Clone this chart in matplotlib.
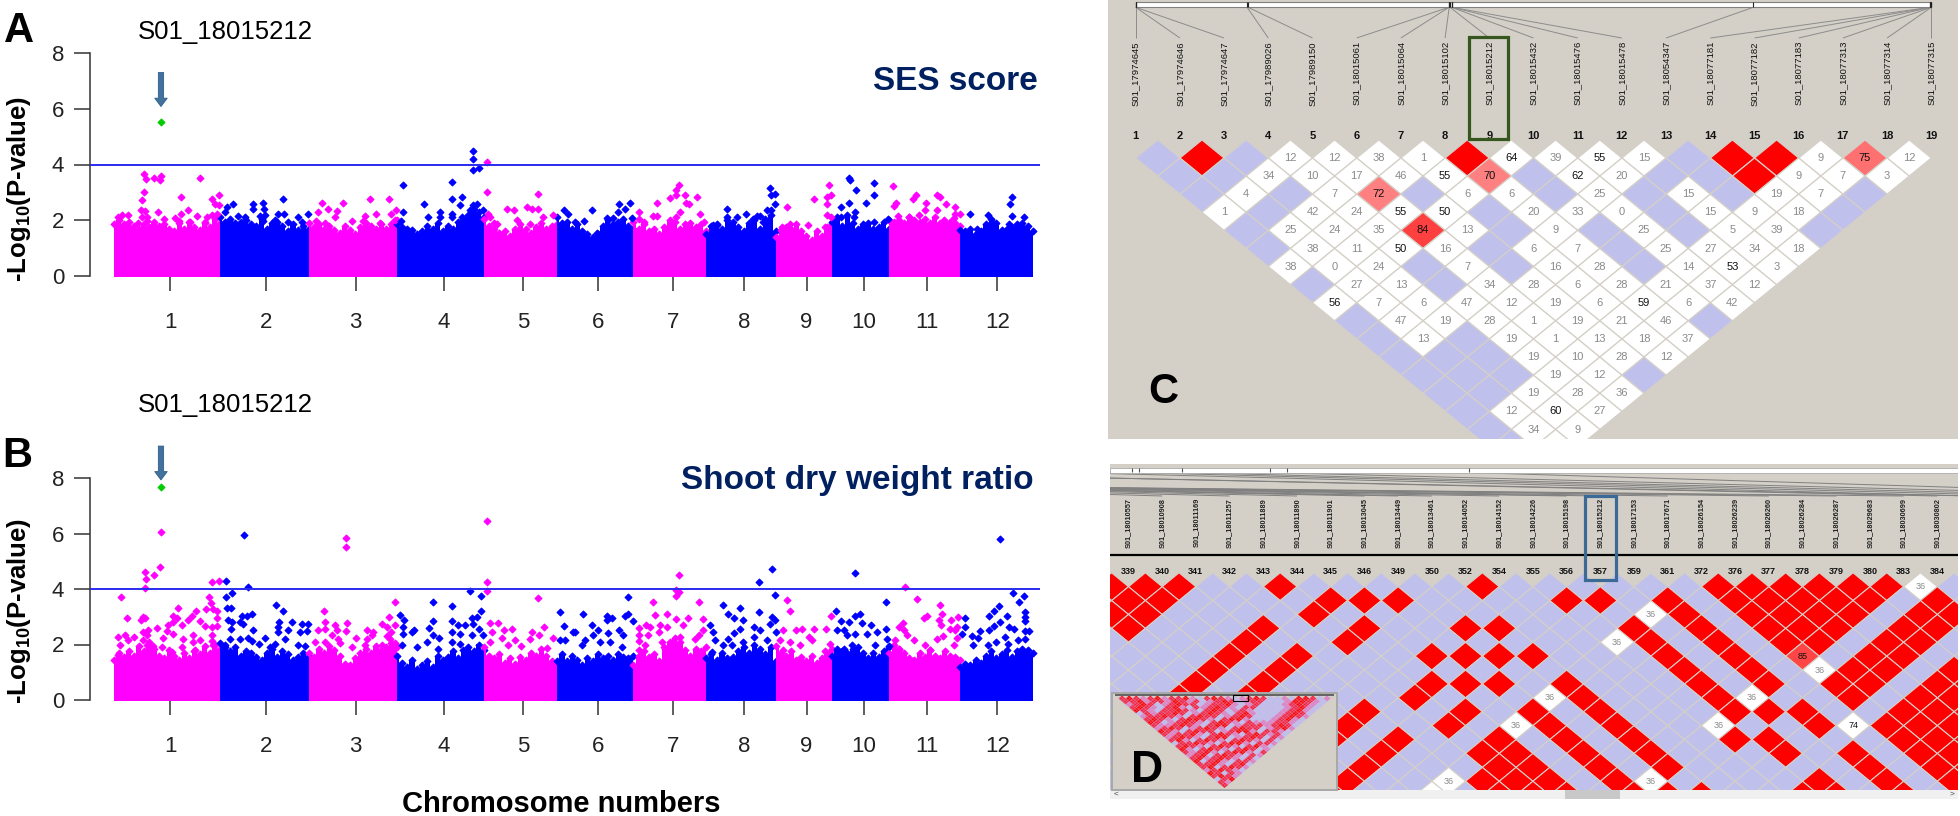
import numpy as np
import matplotlib
matplotlib.use("Agg")
import matplotlib.pyplot as plt
from matplotlib.collections import PolyCollection, LineCollection
from matplotlib.markers import MarkerStyle
from matplotlib.patches import Rectangle, Polygon

plt.rcParams['font.family'] = ['Liberation Sans', 'DejaVu Sans']
plt.rcParams['mathtext.fontset'] = 'custom'
plt.rcParams['mathtext.rm'] = 'Liberation Sans:bold'
plt.rcParams['mathtext.bf'] = 'Liberation Sans:bold'

W, H = 1960, 816

# chromosome starts in Mb, last one is the genome end
chr_starts = [0, 43, 79, 114.7, 150, 179.6, 210.6, 240, 268.4, 291, 314.2, 343, 372.4]
chr_ticks = [23, 61.9, 98.1, 133.7, 166, 196.4, 226.8, 255.6, 280.8, 304, 329.6, 358.1]
chr_names = ['1', '2', '3', '4', '5', '6', '7', '8', '9', '10', '11', '12']
lead_pos = 19.2
lead_a = 5.53
lead_b = 7.66
threshold = 4

# skyline of the solid body per chromosome
a_tops = [
    [1.85, 2.0, 1.85, 1.95, 1.8, 1.7, 1.85, 1.75, 1.95, 1.8, 1.85, 1.7, 1.6, 1.9, 1.7, 1.95, 1.75, 1.65, 1.9, 1.75, 2.05, 1.9],
    [2.1, 1.95, 2.05, 1.9, 1.95, 2.0, 1.85, 1.8, 2.05, 1.7, 1.9, 1.95, 1.8, 1.6, 1.85, 1.65, 1.8, 1.7],
    [1.9, 1.75, 1.85, 1.7, 1.8, 1.65, 1.55, 1.8, 1.65, 1.5, 1.75, 1.9, 1.8, 1.7, 1.85, 1.7, 1.85, 2.0],
    [1.85, 1.75, 1.7, 1.65, 1.5, 1.6, 1.8, 1.7, 1.9, 1.6, 1.8, 1.7, 1.95, 2.05, 2.2, 2.4, 2.3, 2.1],
    [2.05, 1.8, 1.7, 1.55, 1.6, 1.45, 1.7, 1.85, 1.7, 1.55, 1.75, 1.9, 1.7, 1.8, 1.85],
    [2.1, 1.9, 1.95, 1.7, 1.85, 1.6, 1.5, 1.4, 1.5, 1.8, 2.0, 1.85, 1.95, 2.05, 1.8, 1.7],
    [1.95, 1.7, 1.85, 1.6, 1.7, 1.5, 1.75, 2.0, 1.95, 1.7, 1.85, 1.9, 1.75, 1.85, 1.6],
    [1.5, 1.8, 1.85, 1.7, 2.0, 1.95, 1.75, 1.6, 1.9, 2.0, 1.7, 2.05, 2.2, 1.6],
    [1.4, 1.65, 1.75, 1.7, 1.85, 1.6, 1.45, 1.3, 1.6, 1.45, 1.75, 1.9],
    [1.95, 2.1, 1.8, 2.2, 1.9, 1.7, 1.85, 1.9, 1.7, 1.75, 1.95, 1.7],
    [2.0, 1.95, 2.0, 1.9, 2.1, 2.0, 1.95, 2.05, 1.9, 2.1, 1.9, 1.85, 1.95, 1.9, 1.8],
    [1.65, 1.6, 1.7, 1.5, 1.6, 1.85, 2.05, 1.9, 1.65, 1.7, 1.75, 1.85, 1.9, 1.8, 1.6],
]
b_tops = [
    [1.45, 1.7, 1.55, 1.75, 1.6, 1.95, 1.75, 2.1, 1.85, 1.6, 1.5, 1.8, 1.6, 1.45, 1.7, 1.5, 1.75, 1.65, 1.95, 1.7, 2.0, 1.85],
    [2.05, 1.9, 1.75, 1.9, 1.6, 1.75, 1.7, 1.55, 1.45, 1.7, 1.85, 1.55, 1.75, 1.65, 1.45, 1.55, 1.7, 1.6],
    [1.7, 1.55, 1.85, 1.7, 1.95, 1.8, 1.6, 1.3, 1.25, 1.5, 1.7, 1.85, 1.7, 1.95, 1.8, 1.9, 2.05, 1.9],
    [1.6, 1.35, 1.2, 1.45, 1.1, 1.25, 1.4, 1.2, 1.6, 1.45, 1.55, 1.75, 1.5, 1.8, 1.9, 1.75, 2.0, 1.8],
    [1.9, 1.6, 1.5, 1.65, 1.35, 1.5, 1.3, 1.55, 1.45, 1.7, 1.6, 1.85, 1.6, 1.4, 1.3],
    [1.4, 1.65, 1.4, 1.6, 1.45, 1.25, 1.5, 1.4, 1.65, 1.5, 1.6, 1.45, 1.65, 1.55, 1.5, 1.6],
    [1.25, 1.6, 1.75, 1.55, 1.65, 1.4, 1.9, 2.1, 2.25, 2.1, 1.8, 1.6, 1.85, 1.75, 1.9],
    [1.5, 1.65, 1.45, 1.7, 1.5, 1.55, 1.75, 1.9, 1.7, 2.0, 1.85, 1.65, 1.9, 1.4],
    [1.95, 1.7, 1.6, 1.75, 1.45, 1.55, 1.4, 1.6, 1.35, 1.5, 1.7, 1.85],
    [1.6, 1.85, 1.75, 1.7, 1.85, 1.9, 1.7, 1.5, 1.7, 1.55, 1.75, 1.9],
    [1.7, 2.0, 1.85, 1.7, 1.5, 1.45, 1.7, 1.55, 1.8, 1.6, 1.5, 1.75, 1.6, 1.55, 1.45],
    [1.2, 1.3, 1.25, 1.45, 1.35, 1.6, 1.75, 1.5, 1.65, 1.8, 1.55, 1.75, 1.85, 1.8, 1.7],
]

# SNPs above the body: (genome position in Mb, -log10 p)
a_hits = [
    (12.4, 3.65), (13.3, 3.47), (16.2, 3.53), (19.2, 3.6), (18.8, 3.43), (35, 3.53), (12.4, 3.0), (11.4, 2.73),
    (27.2, 2.84), (42.8, 2.9), (40, 2.75), (41, 2.58), (42.8, 2.54), (11, 2.36), (12.7, 2.32), (18.1, 2.3),
    (30.3, 2.36), (27.2, 2.24), (41.8, 2.24), (39.7, 2.18), (1.9, 2.13), (5.7, 2.18), (3.5, 2.18), (11.4, 2.13),
    (13.4, 2.13), (20.4, 2.04), (24.9, 2.07), (33.7, 2.15), (37.7, 2.13), (13.4, 1.98), (31, 1.92), (26.5, 1.98),
    (16.1, 1.83), (37, 1.95), (10, 1.89),
    (48.5, 2.58), (45.8, 2.46), (45.1, 2.3), (56.5, 2.58), (60.7, 2.63), (68.5, 2.75), (60.8, 2.42), (56.5, 2.4),
    (69.1, 2.24), (66.8, 2.24), (78.8, 2.24), (50.3, 2.15), (53.3, 2.13), (59.3, 2.15), (61.4, 2.18), (74.6, 2.1),
    (65.4, 2.0), (70.8, 1.95), (76.2, 1.95), (45.1, 1.89), (60.7, 1.98),
    (84.3, 2.63), (92.9, 2.63), (103.8, 2.78), (111.6, 2.78), (83, 2.3), (87, 2.4), (90.4, 2.34), (106.2, 2.24),
    (112.3, 2.24), (114.4, 2.36), (89.7, 2.13), (81.9, 1.98), (101.9, 2.15), (96.5, 1.98), (85.7, 1.89), (114, 2.0),
    (108, 1.89), (101.2, 1.98),
    (117.2, 3.27), (137.2, 3.38), (145.8, 4.5), (145.8, 4.18), (145.8, 3.8), (148.1, 3.87), (141, 2.84), (137.2, 2.75),
    (140.3, 2.53), (125.7, 2.58), (117.2, 2.3), (132.3, 2.3), (137.2, 2.24), (137.2, 2.1), (141, 2.13), (127.3, 2.13),
    (145.8, 2.54), (147.2, 2.58), (149.8, 2.36), (144.5, 2.36), (116.5, 1.98), (132.3, 2.13),
    (151.2, 4.08), (151.2, 3.0), (171.9, 2.95), (159.2, 2.42), (162.2, 2.36), (167.4, 2.46), (169.5, 2.42), (171.9, 2.4),
    (178, 2.2), (173.8, 2.1), (151.9, 2.24), (152.6, 2.13), (163.4, 2.0), (154, 1.89), (155.3, 1.86), (168.8, 1.86),
    (182.3, 2.36), (184, 2.24), (187, 1.95), (193.7, 2.36), (204.8, 2.58), (209.4, 2.63), (207.1, 2.42), (204.5, 2.3),
    (190.4, 1.98), (199.8, 2.07), (202.5, 2.07), (210, 2.07), (196, 1.56),
    (228.9, 3.27), (227.8, 3.08), (227.8, 2.9), (225.4, 2.79), (220, 2.63), (231.4, 2.9), (236.2, 2.84), (232, 2.63),
    (233.3, 2.58), (213, 2.3), (229.5, 2.3), (237.5, 2.24), (218.7, 2.15), (220, 2.15), (227.8, 2.1), (212.7, 2.04),
    (239.3, 1.92), (215, 1.95), (212.7, 1.55),
    (266, 3.16), (267.8, 2.95), (266.4, 2.9), (267.9, 2.58), (248.5, 2.41), (256.3, 2.24), (264.7, 2.36), (266.3, 2.36),
    (260.6, 2.15), (262, 2.15), (248.5, 2.13), (252.5, 2.1), (243, 1.83), (244.4, 1.83), (259, 2.04), (263, 1.95),
    (272.8, 2.46), (283.7, 2.75), (289.8, 3.27), (290.8, 2.9), (289, 2.84), (289, 2.6), (289, 2.2), (290.6, 2.13),
    (273.9, 1.86), (270.8, 1.77), (281.2, 1.83), (288.3, 1.77),
    (297.8, 3.51), (298.2, 3.46), (308, 3.32), (300.8, 3.1), (308, 2.9), (297.8, 2.63), (305, 2.63), (294.7, 2.46),
    (300.5, 2.3), (294.8, 2.13), (300, 2.13), (313.6, 2.04), (308, 1.92),
    (315.9, 3.22), (325, 2.9), (323.9, 2.75), (333.6, 2.9), (335, 2.84), (317, 2.63), (316.4, 2.5), (329.3, 2.63),
    (337.2, 2.58), (340.9, 2.46), (333.6, 2.36), (328.6, 2.36), (341, 2.24), (326.2, 2.18), (317.8, 2.15), (322.1, 2.1),
    (342.8, 2.23), (340.4, 2.07), (336.3, 2.0),
    (364, 2.84), (363.3, 2.57), (364, 2.15), (347.1, 2.23), (368.7, 2.13), (354.3, 2.18), (355.9, 1.95), (362.7, 1.86),
    (349.8, 1.7),
]
b_hits = [
    (19.2, 6.05), (18.7, 4.78), (12.6, 4.62), (16.2, 4.5), (13.3, 4.35), (12.6, 4.02), (2.9, 3.7), (40, 4.24),
    (42.8, 4.29), (38.8, 3.7), (39.5, 3.49), (26, 3.32), (33.3, 3.22), (37.4, 3.27), (40.4, 3.27), (41.8, 3.22),
    (5.3, 2.95), (12, 2.98), (12.7, 2.95), (11.1, 2.87), (24.2, 3.04), (25.6, 2.96), (31.6, 3.02), (30.3, 2.87),
    (35, 2.83), (41.8, 2.95), (24.2, 2.81), (27.6, 2.71), (21.9, 2.69), (37, 2.65), (39.7, 2.63), (41.8, 2.65),
    (17.4, 2.6), (14, 2.53), (12, 2.45), (21.5, 2.5), (24.2, 2.39), (4.6, 2.36), (1.6, 2.27), (8.3, 2.27),
    (32.3, 2.33), (39.7, 2.33), (28.3, 2.21), (20.1, 2.24), (13.4, 2.33), (12, 2.15), (35, 2.15), (39.7, 2.13),
    (2.6, 2.0), (6, 2.15), (32.3, 2.09), (19.5, 1.91), (40.4, 1.97), (27.9, 1.91), (16.1, 1.93), (13.4, 1.97),
    (23.5, 1.73), (33, 1.79), (1.9, 1.61),
    (52.7, 5.96), (45.4, 4.29), (54.6, 4.07), (47.9, 3.86), (45.4, 3.7), (65.6, 3.43), (68.5, 3.22), (45.8, 3.32),
    (47.6, 3.32), (56, 3.1), (54, 3.04), (52.2, 3.02), (46.5, 2.89), (51.2, 2.81), (47.9, 2.81), (52.6, 2.75),
    (67.2, 2.81), (72.2, 2.81), (76.2, 2.75), (78.8, 2.75), (47.6, 2.57), (56.4, 2.51), (66.8, 2.63), (70.8, 2.53),
    (78.2, 2.48), (66.8, 2.45), (47.2, 2.21), (51.2, 2.21), (54.6, 2.24), (61.4, 2.24), (75.6, 2.45), (69.5, 2.21),
    (56, 2.13), (59, 2.03), (65.4, 2.03), (45.1, 1.97), (74.9, 1.97), (77.6, 1.93), (63.4, 1.91),
    (94, 5.85), (94, 5.52), (114, 3.53), (85.4, 3.22), (111.6, 3.0), (94.5, 2.78), (85.7, 2.81), (89.7, 2.69),
    (94.1, 2.48), (83, 2.51), (85.7, 2.57), (90.4, 2.51), (108.7, 2.75), (110.7, 2.63), (114, 2.69), (102.6, 2.51),
    (105.3, 2.45), (104.6, 2.33), (112.4, 2.45), (88.4, 2.36), (98.1, 2.24), (91.1, 2.21), (110.7, 2.29), (102.6, 2.21),
    (81.6, 2.09), (85.7, 2.09), (112, 2.21), (114, 2.05), (108.7, 2.0), (101.9, 1.97), (96.5, 1.91), (91.8, 2.05),
    (129.3, 3.53), (137.2, 3.38), (144.5, 3.92), (148.8, 3.75), (148.8, 3.22), (145.2, 2.95), (116, 3.05), (117.7, 2.9),
    (129.3, 2.84), (137.2, 2.84), (147.4, 2.98), (139.7, 2.72), (142.4, 2.72), (145.8, 2.75), (117.2, 2.63), (127.9, 2.6),
    (137.2, 2.45), (140.2, 2.39), (121.9, 2.51), (147.9, 2.57), (117.2, 2.39), (129.3, 2.36), (131.9, 2.24), (120.8, 2.45),
    (145.2, 2.33), (149.8, 2.33), (126.9, 2.09), (137, 2.09), (116.8, 2.0), (140.4, 2.03), (122.9, 1.91), (131.6, 1.85),
    (151.2, 6.45), (151.2, 4.24), (151.2, 3.94), (171.9, 3.69), (152.6, 2.78), (155.6, 2.78), (153.3, 2.45), (158, 2.51),
    (161.4, 2.57), (174.3, 2.63), (169.5, 2.45), (172.2, 2.33), (152.6, 2.09), (157.3, 2.24), (178, 2.24), (168.8, 2.21),
    (162.7, 2.15), (160, 1.97), (165.2, 1.93), (175.5, 1.89),
    (181, 3.16), (182.3, 2.67), (187, 2.45), (181, 2.15), (183, 2.15), (190, 3.1), (208.3, 3.7), (199.8, 3.04),
    (202.1, 2.95), (199.8, 2.87), (208.6, 3.1), (207.3, 3.04), (210.4, 2.84), (193.7, 2.69), (186.3, 2.45), (196.4, 2.51),
    (200.5, 2.41), (204.6, 2.51), (206.6, 2.36), (194.4, 2.33), (191, 2.15), (201.2, 2.09), (205.9, 1.91), (189.7, 1.97),
    (197.1, 2.09),
    (228.9, 4.5), (227.9, 3.98), (229.1, 3.88), (227.9, 3.74), (218.7, 3.53), (237, 3.53), (219.3, 3.05), (224.1, 3.1),
    (227.9, 2.92), (232.7, 2.95), (230.9, 2.72), (239, 2.92), (213, 2.58), (215.8, 2.72), (217.4, 2.63), (221.4, 2.69),
    (224.1, 2.63), (220.8, 2.45), (216.7, 2.33), (212.7, 2.33), (212.7, 2.13), (239, 2.51), (237, 2.33), (212.7, 1.81),
    (215.4, 1.97), (222.1, 2.09), (223.5, 1.85), (229.5, 2.27), (235.6, 2.21),
    (261.7, 4.24), (266.6, 4.72), (267.9, 3.8), (247.1, 3.43), (261.7, 3.16), (253.9, 3.32), (249.1, 3.1), (251.2, 2.95),
    (255.2, 2.89), (266.7, 2.98), (268, 2.87), (266, 2.75), (241.7, 2.69), (259.3, 2.63), (253.9, 2.57), (268.2, 2.45),
    (251.4, 2.41), (243, 2.45), (262, 2.51), (259.3, 2.27), (249.1, 2.21), (243.7, 2.15), (255.2, 2.09), (247.1, 2.0),
    (250.5, 1.97), (264.7, 2.15), (242.4, 1.73),
    (272.8, 3.6), (273.9, 3.22), (290.8, 3.04), (288.5, 2.57), (271.4, 2.51), (278.9, 2.57), (276.6, 2.51), (283.9, 2.57),
    (281.6, 2.27), (274.2, 2.09), (270.1, 2.17), (282.9, 2.15), (271.4, 1.81), (290.4, 2.03), (278.2, 1.97), (288.3, 1.77),
    (300.6, 4.56), (292.8, 3.22), (312.9, 3.53), (300.5, 3.04), (302.5, 3.1), (303.2, 2.78), (294.7, 2.84), (297.8, 2.81),
    (306.8, 2.69), (293, 2.51), (295.8, 2.51), (300.5, 2.39), (312.9, 2.57), (309.3, 2.45), (297.1, 2.33), (313.3, 2.21),
    (305.2, 2.39), (299.1, 2.0), (308.6, 1.97), (295.8, 1.85), (314, 1.93),
    (320.8, 4.08), (325.6, 3.64), (334.7, 3.43), (335.6, 3.1), (329.6, 3.04), (328.2, 2.94), (334.3, 2.89), (342.1, 3.0),
    (339.3, 2.89), (319.7, 2.78), (335.2, 2.69), (318.1, 2.63), (341.7, 2.63), (339, 2.57), (320.1, 2.51), (341, 2.51),
    (321.4, 2.33), (336, 2.29), (333.6, 2.21), (341.7, 2.24), (316.7, 2.15), (324.2, 2.15), (328.9, 1.97), (340.4, 1.97),
    (330.9, 1.81), (318.1, 1.85),
    (359, 5.79), (364.5, 3.86), (368.7, 3.75), (367, 3.53), (358.6, 3.38), (369.4, 3.16), (356.6, 3.22), (354.5, 3.04),
    (369.4, 2.98), (362, 3.04), (369.4, 2.84), (345.1, 2.95), (359, 2.81), (345.1, 2.63), (356.6, 2.65), (362.7, 2.63),
    (351.2, 2.48), (354.5, 2.51), (364.7, 2.57), (343.7, 2.39), (370.8, 2.48), (347.8, 2.29), (361.3, 2.27), (350.1, 2.24),
    (357.5, 2.09), (366.3, 2.15), (348.1, 1.97), (362.6, 2.03), (354.2, 1.97), (369.4, 2.48), (369.4, 2.21),
]

# panel C: haploview rows, -1 = blue, 100 = red, None = blank white
c_positions = [17974645, 17974646, 17974647, 17989026, 17989150, 18015061, 18015064, 18015102, 18015212, 18015432,
               18015476, 18015478, 18054347, 18077181, 18077182, 18077183, 18077313, 18077314, 18077315]
c_rows = [
    [-1, 100, -1, 12, 12, 38, 1, 100, 64, 39, 55, 15, -1, 100, 100, 9, 75, 12],
    [-1, -1, 34, 10, 17, 46, 55, 70, -1, 62, 20, -1, -1, 100, 9, 7, 3],
    [-1, 4, -1, 7, 72, -1, 6, 6, -1, 25, -1, 15, -1, 19, 7, -1],
    [1, -1, 42, 24, 55, 50, -1, 20, 33, 0, -1, 15, 9, 18, -1],
    [-1, 25, 24, 35, 84, 13, -1, 9, -1, 25, -1, 5, 39, -1],
    [-1, 38, 11, 50, 16, -1, 6, 7, -1, 25, 27, 34, 18],
    [38, 0, 24, -1, 7, -1, 16, 28, -1, 14, 53, 3],
    [-1, 27, 13, -1, 34, 28, 6, 28, 21, 37, 12],
    [56, 7, 6, 47, 12, 19, 6, 59, 6, 42],
    [-1, 47, 19, 28, 1, 19, 21, 46, -1],
    [-1, 13, -1, 19, 1, 13, 18, 37],
    [-1, -1, -1, 19, 10, 28, 12],
    [-1, -1, -1, 19, 12, -1],
    [-1, -1, 19, 28, 36],
    [-1, 12, 60, 27],
    [-1, 34, 9],
    [-1, None],
]

# panel D: SNPs in the scrolled window and the cell centres (in SNP steps) per row
d_ids = [339, 340, 341, 342, 343, 344, 345, 346, 349, 350, 352, 354, 355, 356, 357, 359, 361, 372, 376, 377, 378, 379,
         380, 383, 384]
d_positions = [18010557, 18010908, 18011169, 18011257, 18011889, 18011890, 18011901, 18013045, 18013449, 18013461,
               18014052, 18014152, 18014226, 18015198, 18015212, 18017153, 18017671, 18026154, 18026239, 18026260,
               18026284, 18026287, 18029683, 18030699, 18030802]
d_red = {
    1: [.5, 1.5, 2.5, 5.5, 11.5, 18.5, 19.5, 20.5, 21.5, 22.5, 23.5],
    2: [1, 2, 7, 8, 9, 14, 15, 17, 19, 20, 21, 22, 23, 25],
    3: [.5, 1.5, 6.5, 17.5, 19.5, 20.5, 21.5, 22.5, 24.5, 25.5],
    4: [1, 5, 8, 11, 12, 16, 18, 20, 21, 22, 24, 25],
    5: [4.5, 7.5, 16.5, 18.5, 20.5, 21.5, 23.5, 24.5],
    6: [4, 6, 10, 11, 12, 13, 17, 19, 23, 24],
    7: [3.5, 5.5, 17.5, 19.5, 22.5, 23.5, 25.5],
    8: [3, 5, 10, 11, 12, 14, 18, 20, 22, 23, 25, 26],
    9: [2.5, 4.5, 9.5, 14.5, 18.5, 22.5, 24.5, 25.5],
    10: [8, 11, 13, 15, 19, 20, 21, 24, 25, 26],
    11: [7.5, 10.5, 13.5, 15.5, 21.5, 23.5, 24.5, 25.5],
    12: [7, 9, 12, 14, 16, 19, 20, 24, 25, 26],
    13: [8.5, 11.5, 12.5, 14.5, 16.5, 20.5, 22.5, 24.5, 25.5],
    14: [8, 12, 13, 15, 17, 23, 25, 26],
    15: [7.5, 11.5, 12.5, 13.5, 15.5, 21.5, 23.5, 25.5],
    16: [7, 12, 13, 14, 16, 17, 18, 21, 22, 24, 26],
}
d_white = {1: {24.5: 36}, 3: {16.5: 36}, 5: {15.5: 36}, 6: {21: 85}, 7: {21.5: 36}, 9: {13.5: 36, 19.5: 36},
           11: {12.5: 36, 18.5: 36, 22.5: 74}, 15: {10.5: 36, 16.5: 36}, 16: {10: None}}

# overview triangle in panel D: # red, x pink red, o pink lilac, . lilac
inset_rows = [
    "x#xox#oxx#o.x#xo.ox#x..o.##x.o", "xx#oxxo#xox.ox#x.oxx...o##xo.", "ox#x.ox#xx.oxx#o.ox...ox#xo.",
    "x#xo.x#o.xox#xo.xx....ox#o.", "#xo.xx#xo.x#x.oxo....ox#o.", ".xoxx#x.ox#xo.x#o...ox#x.",
    "oxx#xo.x#xx.ox#x...ox#xo", "x#xo.x##xo.x##o...ox#o.", "#x.ox#xo.x#xo.xoooxxo.", "xoox#xo.x##.oxxxox#x.",
    "ox#x.ox#xo.x#xx.ox#o", "#xo.x#xx.ox##o.xxo.", "xoxx#o.x#xo.x#xox.", "ox#xo.x##.ox#x.xo", "x#o.x#xo.x#xo.x.",
    ".xx#xo.x##o.xxo", "x#xo.x#xo.x#o.", "#o.x#xo.x#x.o", "xox#o.x##o.x", "ox#.x#xo.xo", "x#ox#xo.x.", "#.x#o.xxo",
    "xx#o.x#.", "x#.x#xo", "ox#xo.", "#x.xo", "x#xo", ".x#", "xo", "x",
]

MAGENTA, BLUE, GREEN, NAVY = '#ff00ff', '#0000ff', '#00cc00', '#002060'
LD_BG, LD_BLUE, LD_RED = '#d4d0c8', '#c0c0ec', '#ff0000'
PINK = {70: '#ff8080', 72: '#ff8080', 75: '#ff7070', 84: '#ff4040', 85: '#ff4545'}
INSET_COLORS = {'#': '#ff0000', 'x': '#f8203c', 'o': '#e080c0', '.': '#c0c0ec'}
DOT = MarkerStyle('D', joinstyle='round')

fig = plt.figure(figsize=(W / 100, H / 100), dpi=100, facecolor='white')


def axes_px(x0, y0, x1, y1):
    return fig.add_axes([x0 / W, 1 - y1 / H, (x1 - x0) / W, (y1 - y0) / H])


def fig_rect(x0, y0, x1, y1, **kw):
    fig.add_artist(Rectangle((x0 / W, 1 - y1 / H), (x1 - x0) / W, (y1 - y0) / H, transform=fig.transFigure, **kw))


def fig_text(x, y, s, **kw):
    kw.setdefault('ha', 'center')
    kw.setdefault('va', 'center')
    fig.text(x / W, 1 - y / H, s, **kw)


# Manhattan panel, x in Mb, one Mb is 2.468 px and genome start sits at 113.6 px
def manhattan(y8_px, y0_px, tops, hits, lead, arrow_from, arrow_to):
    ax = axes_px(90, y8_px, 1040, y0_px)
    ax.set_xlim((90 - 113.6) / 2.468, (1040 - 113.6) / 2.468)
    ax.set_ylim(0, 8)
    dot = dict(marker=DOT, ms=3.4, mew=0.9, ls='none', clip_on=False)
    for i, t in enumerate(tops):
        col = BLUE if i % 2 else MAGENTA
        xs = np.linspace(chr_starts[i], chr_starts[i + 1], len(t))
        ax.fill_between(xs, -0.03, t, step='mid', color=col, lw=0, clip_on=False, zorder=2)
        ax.plot(xs, t, color=col, mec=col, zorder=2, **dot)
    pos = np.array([h[0] for h in hits])
    val = np.array([h[1] for h in hits])
    idx = np.searchsorted(chr_starts, pos, side='right') - 1
    ax.plot(pos[idx % 2 == 0], val[idx % 2 == 0], color=MAGENTA, mec=MAGENTA, zorder=3, **dot)
    ax.plot(pos[idx % 2 == 1], val[idx % 2 == 1], color=BLUE, mec=BLUE, zorder=3, **dot)
    ax.plot([lead_pos], [lead], color=GREEN, mec=GREEN, zorder=4, **dot)
    ax.axhline(threshold, color='#2a2af0', lw=1.4, zorder=5)
    ax.set_yticks([0, 2, 4, 6, 8])
    ax.set_xticks(chr_ticks)
    ax.set_xticklabels(chr_names)
    for s in ['top', 'right', 'bottom']:
        ax.spines[s].set_visible(False)
    ax.spines['left'].set_color('#333333')
    ax.spines['left'].set_linewidth(1.1)
    ax.spines['left'].set_bounds(0, 8)
    ax.tick_params(axis='y', length=11.5, width=1.1, color='#333333', labelsize=16, pad=7, labelcolor='#222222')
    ax.tick_params(axis='x', length=10.8, width=1.1, color='#333333', labelsize=16, pad=15, labelcolor='#222222')
    ax.patch.set_alpha(0)
    ax.annotate('', xy=(lead_pos, arrow_to), xytext=(lead_pos, arrow_from), annotation_clip=False, zorder=6,
                arrowprops=dict(width=3.8, headwidth=9, headlength=6, fc='#41719c', ec='#2f5f8a', lw=0.6, shrink=0))
    return ax


manhattan(53, 276, a_tops, a_hits, lead_a, 7.3, 6.08)
manhattan(478, 700, b_tops, b_hits, lead_b, 9.15, 7.93)

ylab = r'-Log$_{\mathbf{10}}$(P-value)'
fig_text(19, 189, ylab, rotation=90, fontsize=18.5, fontweight='bold')
fig_text(19, 611, ylab, rotation=90, fontsize=18.5, fontweight='bold')
fig_text(225, 32, 'S01_18015212', fontsize=18.5)
fig_text(225, 405, 'S01_18015212', fontsize=18.5)
fig_text(1038, 82, 'SES score', fontsize=24, fontweight='bold', color=NAVY, ha='right')
fig_text(1034, 480, 'Shoot dry weight ratio', fontsize=24, fontweight='bold', color=NAVY, ha='right')
fig_text(561, 804, 'Chromosome numbers', fontsize=21, fontweight='bold')
fig_text(19, 31, 'A', fontsize=30, fontweight='bold')
fig_text(17, 456, 'B', fontsize=30, fontweight='bold')


def diamond(cx, r, half=0.5):
    return [(cx - half, r), (cx, r - 1), (cx + half, r), (cx, r + 1)]


# panel C
C_Y0, C_DY, C_X0, C_DX = 158, 18.1, 1135.7, 44.2
cr = lambda y: (y - C_Y0) / C_DY + 1
ci = lambda x: (x - C_X0) / C_DX + 1
axc = axes_px(1108, 0, 1958, 439)
axc.set_xlim(ci(1108), ci(1958))
axc.set_ylim(cr(439), cr(0))
axc.axis('off')
axc.add_patch(Rectangle((ci(1108), cr(0)), ci(1958) - ci(1108), cr(439) - cr(0), fc=LD_BG, ec='none', zorder=0))
polys, faces = [], []
for r, row in enumerate(c_rows, 1):
    for k, v in enumerate(row, 1):
        cx = k + r / 2
        polys.append(diamond(cx, r))
        if v == -1:
            faces.append(LD_BLUE)
        elif v == 100:
            faces.append(LD_RED)
        else:
            faces.append(PINK.get(v, 'white'))
        if v is not None and v not in (-1, 100):
            axc.text(cx, r, str(v), ha='center', va='center', fontsize=8, zorder=3,
                     color='#111111' if v >= 50 else '#8a8a8a')
axc.add_collection(PolyCollection(polys, facecolors=faces, edgecolors=LD_BG, linewidths=0.9, zorder=2))
span = c_positions[-1] - c_positions[0]
map_x = [1 + (p - c_positions[0]) / span * 18 for p in c_positions]
axc.add_patch(Rectangle((1, cr(2)), 18, cr(7.3) - cr(2), fc='white', ec='#808080', lw=0.8, zorder=3))
axc.add_collection(LineCollection([[(m, cr(7.3)), (i + 1, cr(38))] for i, m in enumerate(map_x)], colors='#8c8c8c',
                                  linewidths=0.7, zorder=2))
axc.add_collection(LineCollection([[(m, cr(2)), (m, cr(7.3))] for m in map_x], colors='#222222', linewidths=0.8,
                                  zorder=4))
for i, p in enumerate(c_positions):
    axc.text(i + 1, cr(41), 'S01_%d' % p, rotation=90, ha='center', va='top', fontsize=6.8, color='#111111')
    axc.text(i + 1, cr(136), str(i + 1), ha='center', va='center', fontsize=8, fontweight='bold', color='#111111')
axc.add_patch(Rectangle((ci(1469), cr(37)), ci(1507.5) - ci(1469), cr(139) - cr(37), fc='none', ec='#35561f', lw=2.3,
                        zorder=5))
fig_text(1163, 392, 'C', fontsize=30, fontweight='bold')

# panel D
D_Y0, D_DY, D_X0, D_DX = 586.7, 13.9, 1128.5, 33.7
dr = lambda y: (y - D_Y0) / D_DY + 1
di = lambda x: (x - D_X0) / D_DX + 1
axd = axes_px(1110, 464, 1958, 790)
axd.set_xlim(di(1110), di(1958))
axd.set_ylim(dr(790), dr(464))
axd.axis('off')
axd.add_patch(Rectangle((di(1110), dr(464)), di(1958) - di(1110), dr(790) - dr(464), fc=LD_BG, ec='none', zorder=0))
polys, faces = [], []
for r in range(1, 18):
    for cx in np.arange(-1 + (0.5 if r % 2 else 0), 28, 1.0):
        polys.append(diamond(cx, r))
        w = d_white.get(r, {})
        if cx in w:
            v = w[cx]
            faces.append(PINK.get(v, 'white'))
            if v is not None:
                axd.text(cx, r, str(v), ha='center', va='center', fontsize=6.5, zorder=3,
                         color='#111111' if v >= 50 else '#8a8a8a')
        elif cx in d_red.get(r, []):
            faces.append(LD_RED)
        else:
            faces.append(LD_BLUE)
axd.add_collection(PolyCollection(polys, facecolors=faces, edgecolors=LD_BG, linewidths=0.8, zorder=2))
axd.add_patch(Rectangle((di(1110), dr(468)), di(1958) - di(1110), dr(472.5) - dr(468), fc='white', ec='#a0a0a0', lw=0.5,
                        zorder=3))
# map ticks of the SNPs in view, in SNP steps, and the lines that run on to the labels
map_ticks = [-7.6, -7.4, -7.2, -0.8, 1.1, 1.3, 2.6, 5.2, 5.7, 11.1]
fan = [(-7.4, 26), (-7.2, 25), (-0.8, 26), (1.1, 28), (2.6, 30), (5.2, 32), (11.1, 34), (-30, 12), (-28, 14), (-32, 10),
       (-26, 9), (-34, 15), (-25, 8), (-36, 17), (-24, 6), (-38, 20), (-23, 4), (-40, 22), (-22, 2), (-42, 24)]
axd.add_collection(LineCollection([[(m, dr(472.5)), (k, dr(496))] for m, k in fan], colors='#808080', linewidths=0.7,
                                  zorder=2))
axd.add_collection(LineCollection([[(m, dr(468)), (m, dr(472.5))] for m in map_ticks], colors='#555555',
                                  linewidths=0.8, zorder=4))
for i, (n, p) in enumerate(zip(d_ids, d_positions), 1):
    axd.text(i, dr(498), 'S01_%d' % p, rotation=90, ha='center', va='top', fontsize=5.3, fontweight='bold',
             color='#222222')
    axd.text(i, dr(571), str(n), ha='center', va='center', fontsize=6.5, fontweight='bold', color='#111111')
axd.plot([di(1110), di(1958)], [dr(555), dr(555)], color='black', lw=1.6, zorder=3)
axd.add_patch(Rectangle((di(1584.5), dr(496)), di(1615.5) - di(1584.5), dr(579.5) - dr(496), fc='none', ec='#3b6a96',
                        lw=2.3, zorder=5))

# overview window on top of panel D
axi = axes_px(1112, 693, 1337, 790)
axi.set_xlim(1112, 1337)
axi.set_ylim(790, 693)
axi.set_xticks([])
axi.set_yticks([])
axi.set_facecolor(LD_BG)
axi.set_zorder(5)
for s in axi.spines.values():
    s.set_color('#a8a8a8')
    s.set_linewidth(1.4)
n_rows = len(inset_rows)
cell_w = (1334 - 1115) / (n_rows + 1)
cell_h = (786.5 - 697) / n_rows
polys, faces = [], []
for r, row in enumerate(inset_rows, 1):
    x_left = 1224.5 - (len(row) - 1) * cell_w / 2
    for k, ch in enumerate(row):
        cx = x_left + k * cell_w
        cy = 697 + (r - 0.5) * cell_h
        polys.append([(cx - cell_w / 2, cy), (cx, cy - cell_h), (cx + cell_w / 2, cy), (cx, cy + cell_h)])
        faces.append(INSET_COLORS[ch])
axi.add_collection(PolyCollection(polys, facecolors=faces, edgecolors='none', zorder=2))
# thin cell grid of the overview, two lines to one coarse cell
tri = Polygon([(1115, 697), (1334, 697), (1224.5, 787)], transform=axi.transData, fc='none', ec='none')
axi.add_patch(tri)
grid = []
step = cell_w / 2
depth = 90
for x in np.arange(1115 - 220, 1334 + 220, step):
    grid.append([(x, 697), (x + depth * (cell_w / 2) / cell_h, 697 + depth)])
    grid.append([(x, 697), (x - depth * (cell_w / 2) / cell_h, 697 + depth)])
grid_lines = LineCollection(grid, colors='#c8b8ec', linewidths=0.4, alpha=0.4, zorder=3)
axi.add_collection(grid_lines)
grid_lines.set_clip_path(tri)
axi.add_patch(Rectangle((1115, 693.5), 219, 2.5, fc='#666666', ec='none', zorder=3))
axi.add_patch(Rectangle((1233, 695), 15, 6, fc='none', ec='black', lw=0.8, zorder=4))
axi.text(1147, 771, 'D', fontsize=32, fontweight='bold', ha='center', va='center', zorder=4)

# scroll bar
fig_rect(1110, 790, 1958, 799, fc='#f0f0f0', ec='none')
fig_rect(1565, 790, 1620, 799, fc='#c8c8c8', ec='none')
fig_text(1116, 794.5, '<', fontsize=6, color='#444444')
fig_text(1952, 794.5, '>', fontsize=6, color='#444444')

fig.savefig('out.png', dpi=100, facecolor='white')
